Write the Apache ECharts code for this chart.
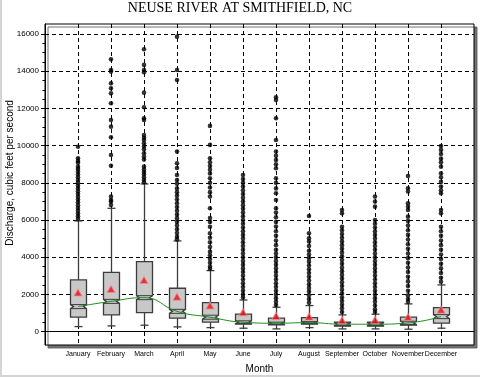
<!DOCTYPE html>
<html><head><meta charset="utf-8">
<script src="https://cdn.jsdelivr.net/npm/echarts@6/dist/echarts.min.js"></script>
<style>html,body{margin:0;padding:0;background:#fff}#c{width:480px;height:377px}</style>
</head><body><div id="c"></div>
<script>
const titleText = 'NEUSE RIVER AT SMITHFIELD, NC';
const yTitle = 'Discharge, cubic feet per second';
const xTitle = 'Month';
const months = ['January','February','March','April','May','June','July','August','September','October','November','December'];
const yTicks = [0,2000,4000,6000,8000,10000,12000,14000,16000];
const yMinorTicks = [500,1000,1500,2500,3000,3500,4500,5000,5500,6500,7000,7500,8500,9000,9500,10500,11000,11500,12500,13000,13500,14500,15000,15500];

const whiskerLow  = [270, 306, 344, 253, 215, 183, 145, 215, 145, 145, 129, 183];
const q1          = [774, 897, 1021, 720, 505, 398, 360, 398, 290, 290, 344, 451];
const median      = [1345, 1625, 1825, 1090, 774, 505, 450, 484, 398, 398, 468, 806];
const q3          = [2780, 3190, 3762, 2332, 1560, 935, 720, 752, 505, 505, 774, 1290];
const whiskerHigh = [5950, 6630, 7940, 4875, 3280, 1700, 1310, 1400, 900, 935, 1490, 2510];
const mean        = [2100, 2295, 2780, 1880, 1400, 1040, 845, 806, 612, 630, 790, 1182];

const outJan = [9940, 9320, 9180, 9080, 8870, 8750, 8600, 8450, 8300, 8150, 8000, 7850, 7700, 7550, 7400, 7250, 7100, 6950, 6800, 6650, 6500, 6350, 6200, 6060];
const outFeb = [14640, 14070, 13980, 13350, 13080, 12810, 12280, 11380, 11020, 10450, 9500, 8920, 7260, 7080, 6990, 6810];
const outMar = [15180, 14340, 14070, 13950, 12850, 12060, 11470, 11380, 10570, 10420, 10300, 10130, 9950, 9800, 9590, 9400, 9250, 8870, 8720, 8580, 8450, 8300, 8150, 8030];
const outApr = [15860, 14070, 13530, 9680, 9050, 8800, 8420, 8150, 7950, 7700, 7500, 7300, 7100, 6900, 6700, 6500, 6300, 6100, 5900, 5700, 5500, 5300, 5100, 4960];
const outMay = [11060, 10040, 9320, 9100, 8900, 8700, 8500, 8250, 8000, 7750, 7500, 7260, 6630, 6110, 5900, 5640, 5290, 5050, 4800, 4550, 4300, 4100, 3900, 3700, 3500, 3380];
const outJun = [8420, 8200, 8000, 7800, 7600, 7400, 7200, 7000, 6800, 6600, 6400, 6200, 6000, 5800, 5600, 5400, 5200, 5000, 4800, 4600, 4400, 4200, 4000, 3800, 3600, 3400, 3200, 3000, 2800, 2600, 2400, 2200, 2000, 1830];
const outJul = [12600, 12450, 11470, 10300, 9680, 9450, 9230, 9000, 8780, 8250, 8000, 7700, 7440, 7080, 6630, 6400, 6150, 5900, 5650, 5400, 5150, 4900, 4650, 4400, 4200, 4000, 3800, 3600, 3400, 3200, 3000, 2800, 2600, 2400, 2200, 2000, 1800, 1600, 1430];
const outAug = [6220, 5290, 5020, 4850, 4600, 4350, 4150, 3950, 3750, 3550, 3350, 3150, 2950, 2750, 2550, 2350, 2150, 1950, 1750, 1550];
const outSep = [6540, 6360, 5640, 5450, 5250, 5050, 4850, 4650, 4450, 4250, 4050, 3850, 3650, 3450, 3250, 3050, 2850, 2650, 2450, 2250, 2050, 1850, 1650, 1450, 1250, 1050];
const outOct = [7260, 6990, 6720, 6000, 5800, 5600, 5400, 5200, 5000, 4800, 4600, 4400, 4200, 4000, 3800, 3600, 3400, 3200, 3000, 2800, 2600, 2400, 2200, 2000, 1800, 1600, 1400, 1200, 1060];
const outNov = [8370, 7710, 7530, 6900, 6720, 6540, 6180, 5950, 5700, 5450, 5200, 4950, 4700, 4450, 4200, 3950, 3700, 3450, 3200, 2950, 2700, 2450, 2200, 1950, 1750, 1600];
const outDec = [9980, 9770, 9550, 9300, 9100, 8870, 8510, 8300, 8050, 7800, 7600, 7440, 6540, 6360, 5640, 5400, 5150, 4900, 4650, 4400, 4150, 3900, 3650, 3400, 3150, 2900, 2680];
const outliers = [outJan, outFeb, outMar, outApr, outMay, outJun, outJul, outAug, outSep, outOct, outNov, outDec];

const xCategories = [''].concat(months, ['']);
const boxData = months.map((m, i) => [i + 1, whiskerLow[i], q1[i], median[i], q3[i], whiskerHigh[i]]);
const outlierData = [];
outliers.forEach((arr, i) => arr.forEach(v => outlierData.push([i + 1, v])));
const medianData = median.map((v, i) => [i + 1, v]);
const meanData = mean.map((v, i) => [i + 1, v]);

const stroke = '#3c3c3c';
function renderBox(params, api) {
  const x = api.value(0);
  const lo = api.coord([x, api.value(1)]);
  const b = api.coord([x, api.value(2)]);
  const m = api.coord([x, api.value(3)]);
  const t = api.coord([x, api.value(4)]);
  const hi = api.coord([x, api.value(5)]);
  const cx = Math.round(lo[0]) + 0.5;
  const hw = 8, cap = 4, inset = 3;
  const yT = t[1], yB = b[1], yM = m[1];
  const nh = Math.max(0.8, Math.min(2, yM - yT - 0.6, yB - yM - 0.6));
  const L = cx - hw, R = cx + hw;
  const ls = { stroke: stroke, lineWidth: 1.3 };
  return { type: 'group', children: [
    { type: 'line', shape: { x1: cx, y1: yT, x2: cx, y2: hi[1] }, style: ls },
    { type: 'line', shape: { x1: cx - cap, y1: hi[1], x2: cx + cap, y2: hi[1] }, style: ls },
    { type: 'line', shape: { x1: cx, y1: yB, x2: cx, y2: lo[1] }, style: ls },
    { type: 'line', shape: { x1: cx - cap, y1: lo[1], x2: cx + cap, y2: lo[1] }, style: ls },
    { type: 'polygon', shape: { points: [[L, yT], [R, yT], [R, yM - nh], [R - inset, yM], [R, yM + nh], [R, yB], [L, yB], [L, yM + nh], [L + inset, yM], [L, yM - nh]] },
      style: { fill: '#c8c8c8', stroke: stroke, lineWidth: 1.3 } },
    { type: 'line', shape: { x1: L, y1: yM - nh, x2: R, y2: yM - nh }, style: { stroke: stroke, lineWidth: 1 } },
    { type: 'line', shape: { x1: L, y1: yM + nh, x2: R, y2: yM + nh }, style: { stroke: stroke, lineWidth: 1 } }
  ]};
}

const chart = echarts.init(document.getElementById('c'), null, { renderer: 'canvas' });
const dash = [4, 3];
chart.setOption({
  animation: false,
  backgroundColor: '#fff',
  title: {
    text: titleText, left: 'center', top: 1, padding: [0, 0, 0, 16],
    textStyle: { fontFamily: 'Liberation Serif', fontSize: 14, fontWeight: 'normal', color: '#000' }
  },
  graphic: [
    { type: 'line', shape: { x1: 1, y1: 0, x2: 1, y2: 377 }, style: { stroke: '#d4d4d4', lineWidth: 2 } },
    { type: 'line', shape: { x1: 0, y1: 376, x2: 480, y2: 376 }, style: { stroke: '#d4d4d4', lineWidth: 2 } },
    { type: 'text', x: 10, y: 173, rotation: Math.PI / 2,
      style: { text: yTitle, fill: '#000', font: '10px "Liberation Sans"', textAlign: 'center', textVerticalAlign: 'middle' } }
  ],
  grid: {
    left: 45, right: 6, top: 24, bottom: 32, show: true, containLabel: false, outerBoundsMode: 'none',
    backgroundColor: '#fff', borderColor: '#000', borderWidth: 1,
    shadowColor: 'rgba(90,90,90,0.85)', shadowBlur: 0, shadowOffsetX: 3, shadowOffsetY: 3
  },
  xAxis: {
    type: 'category', data: xCategories, boundaryGap: false,
    name: xTitle, nameLocation: 'middle', nameGap: 19,
    nameTextStyle: { fontFamily: 'Liberation Sans', fontSize: 10, color: '#000' },
    axisLine: { show: true, lineStyle: { color: '#000', width: 1 } },
    axisTick: { show: true, length: 5, interval: (i) => i > 0 && i < 13, lineStyle: { color: '#000', type: dash } },
    axisLabel: { interval: 0, margin: 6, hideOverlap: false, fontFamily: 'Liberation Sans', fontSize: 7, color: '#000' },
    splitLine: { show: true, interval: (i) => i > 0 && i < 13, lineStyle: { color: '#000', type: dash, width: 1 } }
  },
  yAxis: [{
    type: 'value', min: -720, max: 16540,
    axisLine: { show: true, lineStyle: { color: '#000' } },
    axisTick: { show: true, length: 4, customValues: yTicks, lineStyle: { color: '#000' } },
    axisLabel: { customValues: yTicks, margin: 6, fontFamily: 'Liberation Sans', fontSize: 8, color: '#000',
      formatter: (v) => String(v) },
    splitLine: { show: true, lineStyle: { color: '#000', type: dash, width: 1 } }
  }, {
    type: 'value', min: -720, max: 16540, position: 'left',
    axisLine: { show: false },
    axisTick: { show: true, length: 2.5, customValues: yMinorTicks, lineStyle: { color: '#000' } },
    axisLabel: { show: false },
    splitLine: { show: false }
  }],
  series: [
    { type: 'custom', renderItem: renderBox, data: boxData, z: 2, encode: { x: 0, y: [1, 2, 3, 4, 5] } },
    { type: 'scatter', data: outlierData, symbol: 'circle', symbolSize: 4.6, itemStyle: { color: '#000' }, z: 3 },
    { type: 'line', data: medianData, smooth: true, symbol: 'none', lineStyle: { color: '#1e8c1e', width: 1 }, z: 4 },
    { type: 'scatter', data: meanData, symbol: 'triangle', symbolSize: [8, 7],
      itemStyle: { color: '#e3121c', borderColor: 'rgba(245,140,140,0.9)', borderWidth: 1 }, z: 5 }
  ]
});
</script></body></html>
